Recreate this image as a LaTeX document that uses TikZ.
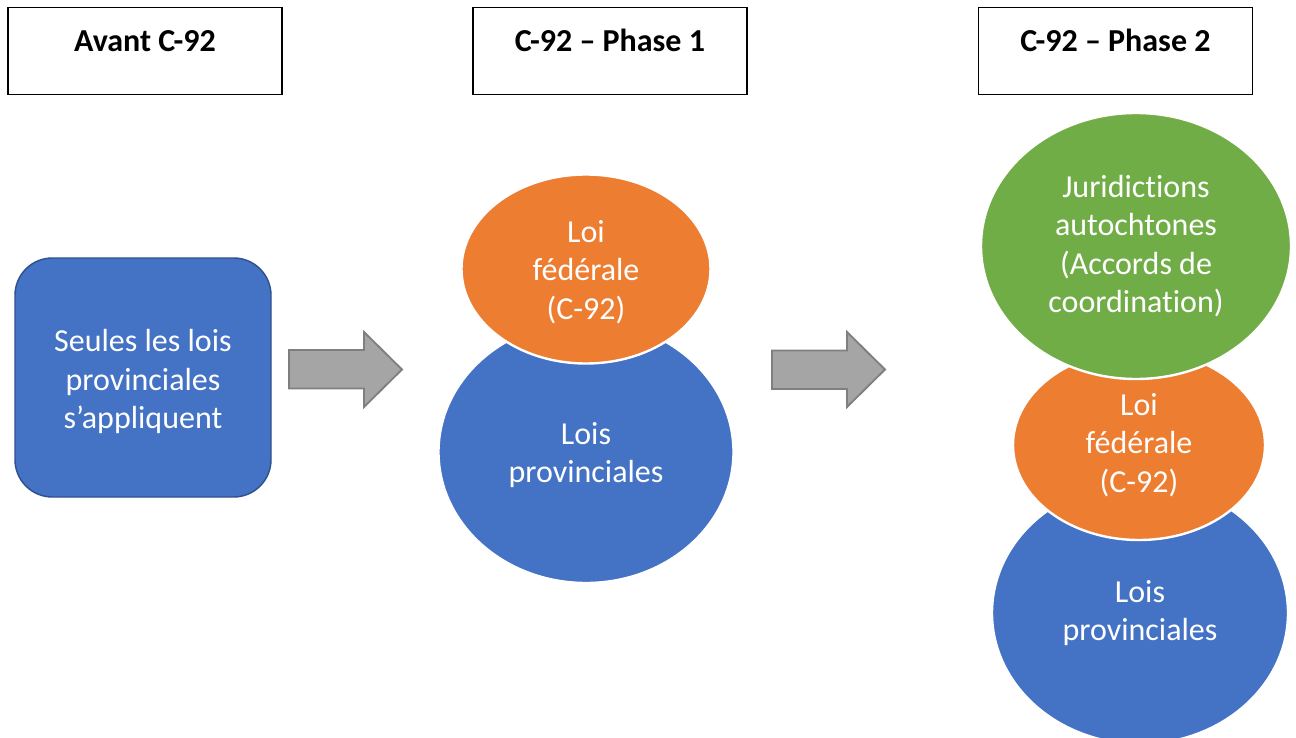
\documentclass[tikz,border=0pt]{standalone}
\usepackage{fontspec}
\setmainfont{Carlito}[Ligatures={NoCommon,NoContextual}]
\usetikzlibrary{shapes.geometric}
\definecolor{bluef}{HTML}{4472C4}
\definecolor{blued}{HTML}{2F528F}
\definecolor{orangef}{HTML}{ED7D31}
\definecolor{greenf}{HTML}{70AD47}
\definecolor{grayf}{HTML}{A5A5A5}
\definecolor{grayd}{HTML}{7F7F7F}
\newcommand\topstrut[1]{\rule{0pt}{#1}}
\tikzset{
  bodyfont/.style={font=\fontsize{24pt}{28.9pt}\selectfont},
  headbox/.style={draw=black, line width=0.8pt, rectangle, inner sep=0pt,
    minimum width=205.5pt, text height=33pt, text depth=32.25pt,
    font=\fontsize{24pt}{28.9pt}\selectfont\bfseries},
  startbox/.style={draw=blued, fill=bluef, line width=1.1pt, rectangle,
    rounded corners=28pt, minimum width=192pt, minimum height=179.25pt,
    text=white, align=center, bodyfont},
  blob/.style={ellipse, draw=white, line width=1.8pt, inner sep=0pt,
    text=white, align=center, bodyfont},
  blockarrow/.style={draw=grayd, fill=grayf, line width=1.4pt, line join=miter}
}
\begin{document}
\begin{tikzpicture}[x=0.75pt,y=-0.75pt]
\useasboundingbox (0,0) rectangle (1296,738);
% headers
\node[headbox] (h1) at (145,51) {Avant C-92};
\node[headbox] (h2) at (610,51) {C-92 – Phase 1};
\node[headbox] (h3) at (1115.5,51) {C-92 – Phase 2};
% left box
\node[startbox] (s) at (143,377.5) {\topstrut{23pt}Seules les lois\\provinciales\\s’appliquent};
% arrows
\draw[blockarrow] (289,350) -- (364,350) -- (364,332) -- (402,369.5) -- (364,407) -- (364,388.5) -- (289,388.5) -- cycle;
\draw[blockarrow] (772,350.5) -- (847,350.5) -- (847,332) -- (885,369.5) -- (847,407) -- (847,389) -- (772,389) -- cycle;
% phase 1
\node[blob, fill=bluef, minimum width=221.25pt, minimum height=196.5pt] (b1) at (586,452) {\topstrut{21pt}Lois\\provinciales};
\node[blob, fill=orangef, minimum width=186.75pt, minimum height=141.75pt] (o1) at (586,269) {\topstrut{21pt}Loi\\fédérale\\(C-92)};
% phase 2
\node[blob, fill=bluef, minimum width=222pt, minimum height=196.5pt] (b2) at (1140,613) {Lois\\provinciales};
\node[blob, fill=orangef, minimum width=189pt, minimum height=142.5pt] (o2) at (1139,445) {Loi\\fédérale\\(C-92)};
\node[blob, fill=greenf, minimum width=232.5pt, minimum height=199.5pt] (g2) at (1136,246) {Juridictions\\autochtones\\(Accords de\\coordination)};
\end{tikzpicture}
\end{document}
